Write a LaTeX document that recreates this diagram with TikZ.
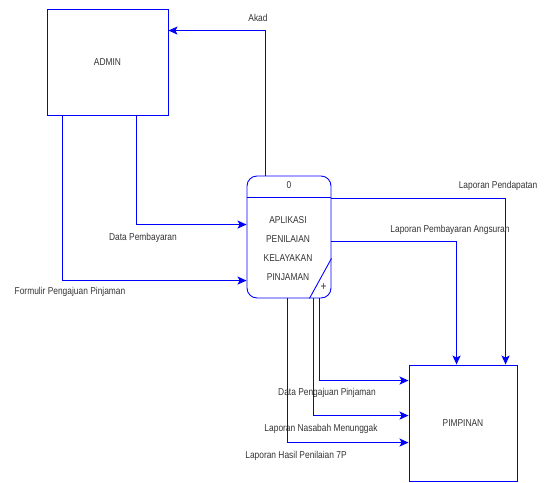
\documentclass[tikz,border=0pt]{standalone}
\usepackage{fontspec}
\setmainfont[FakeStretch=0.84]{Liberation Sans}
\usetikzlibrary{arrows.meta,calc}
\begin{document}
\begin{tikzpicture}[x=1pt,y=-1pt,
  box/.style={draw=blue, line width=0.9pt, fill=white, inner sep=0pt},
  flow/.style={draw=blue, line width=1pt, -{Stealth[length=9pt,width=8pt,inset=2pt]}},
  lbl/.style={font=\fontsize{10}{11}\selectfont, text=black!80, inner sep=0pt},
  btxt/.style={font=\fontsize{10}{11}\selectfont, text=black!80}]
\useasboundingbox (0,0) rectangle (545,482);
% entities
\node[box, btxt, minimum width=121pt, minimum height=106pt] (admin) at (107.5,62) {ADMIN};
\node[box, btxt, minimum width=108pt, minimum height=116pt] (pim) at (463,423) {PIMPINAN};
% process
\node[box, minimum width=84pt, minimum height=122pt, rounded corners=10pt] (proc) at (289,237) {};
\draw[blue, line width=0.9pt] ($(proc.north west)+(0,22)$) -- ($(proc.north east)+(0,22)$);
\draw[blue, line width=0.9pt] ($(proc.south east)+(-22,0)$) -- ($(proc.south east)+(0,-40)$);
\node[lbl] (pnum) at ($(proc.north)+(0,10)$) {0};
\node[lbl] (plus) at ($(proc.south east)+(-8,-11)$) {\fontsize{12}{12}\selectfont +};
\node[lbl, align=center, font=\fontsize{10}{19}\selectfont] (ptxt) at (288,249) {APLIKASI\\PENILAIAN\\KELAYAKAN\\PINJAMAN};
% flows
\draw[flow] ($(proc.north)+(-24,0)$) |- ($(admin.north east)+(0,22)$);
\node[lbl] (lakad) at (258,18) {Akad};
\draw[flow] ($(admin.south west)+(90,0)$) |- ($(proc.north west)+(0,49)$);
\node[lbl] (ldp) at (143,238) {Data Pembayaran};
\draw[flow] ($(admin.south west)+(16,0)$) |- ($(proc.north west)+(0,105)$);
\node[lbl] (lfp) at (70,292) {Formulir Pengajuan Pinjaman};
\draw[flow] ($(proc.north east)+(0,23)$) -| ($(pim.north west)+(97,0)$);
\node[lbl] (llp) at (498,186) {Laporan Pendapatan};
\draw[flow] ($(proc.north east)+(0,66)$) -| ($(pim.north west)+(48,0)$);
\node[lbl] (llpa) at (450,230) {Laporan Pembayaran Angsuran};
\draw[flow] ($(proc.south west)+(73,0)$) |- ($(pim.north west)+(0,16)$);
\node[lbl] (ldpp) at (327,393) {Data Pengajuan Pinjaman};
\draw[flow] ($(proc.south west)+(67,0)$) |- ($(pim.north west)+(0,51)$);
\node[lbl] (llnm) at (321,429) {Laporan Nasabah Menunggak};
\draw[flow] ($(proc.south west)+(41,0)$) |- ($(pim.north west)+(0,78)$);
\node[lbl] (llhp) at (296,456) {Laporan Hasil Penilaian 7P};
\end{tikzpicture}
\end{document}
